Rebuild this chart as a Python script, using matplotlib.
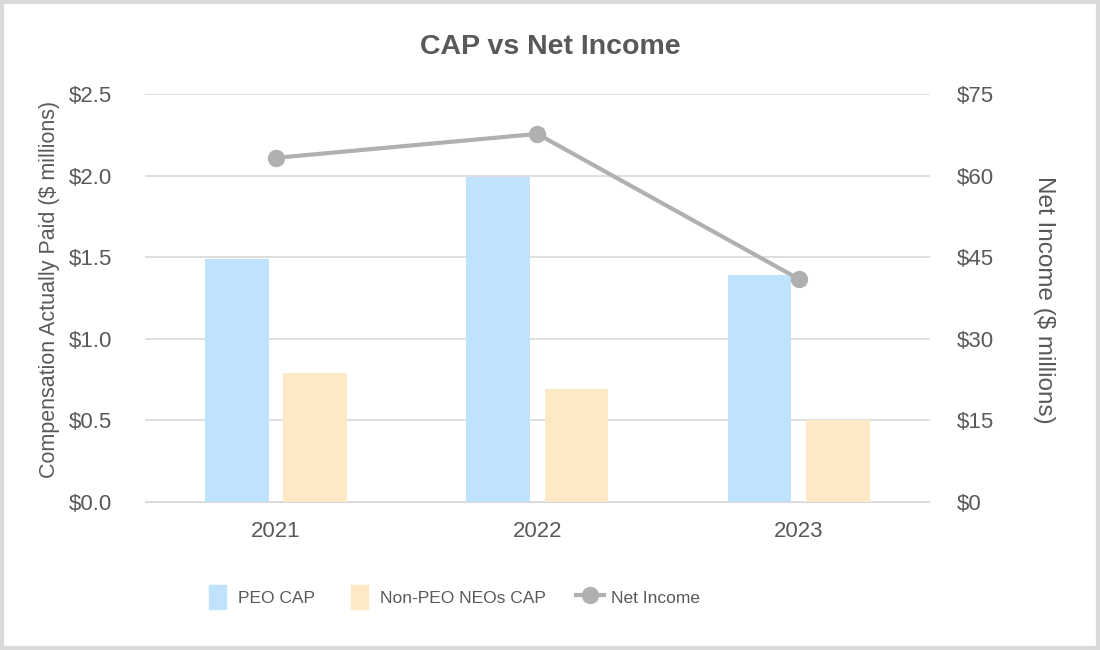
import matplotlib.pyplot as plt
import numpy as np
from matplotlib.lines import Line2D
from matplotlib.patches import Rectangle
from matplotlib.legend_handler import HandlerPatch
from matplotlib.ticker import FuncFormatter

plt.rcParams['font.family'] = ['Liberation Sans', 'DejaVu Sans']

years = ["2021", "2022", "2023"]
peo_cap = [1.49, 1.99, 1.39]
non_peo_cap = [0.79, 0.69, 0.50]
net_income = [63.3, 67.7, 41.0]

TEXT = "#595959"
GRID = "#d9d9d9"
PEO_COLOR = "#bfe3fd"
NON_PEO_COLOR = "#fde9c5"
LINE_COLOR = "#b0b0b0"


def narrow_box(legend, orig_handle, xdescent, ydescent, width, height, fontsize):
    # legend swatch is a narrow upright block, not the full handle length
    w = 12.2
    h = 17.3
    return Rectangle((-xdescent + (width - w) / 2, -ydescent + (height - h) / 2), w, h)


fig = plt.figure(figsize=(11, 6.5), dpi=100)
ax = fig.add_axes([0.132, 0.228, 0.713, 0.627])

x = np.arange(len(years))
w = 0.244
ax.bar(x - 0.15, peo_cap, w, color=PEO_COLOR, zorder=2)
ax.bar(x + 0.15, non_peo_cap, w, color=NON_PEO_COLOR, zorder=2)

ax.set_xlim(-0.5, 2.5)
ax.set_ylim(0, 2.5)
ax.set_yticks(np.arange(0, 2.51, 0.5))
ax.yaxis.set_major_formatter(FuncFormatter(lambda v, p: f"${v:.1f}"))
ax.set_xticks(x)
ax.set_xticklabels(years)
ax.grid(axis="y", color=GRID, linewidth=1.2, zorder=0)
for s in ["top", "right", "left"]:
    ax.spines[s].set_visible(False)
ax.spines["bottom"].set_color(GRID)
ax.tick_params(axis="both", length=0, labelsize=16, colors=TEXT)
ax.tick_params(axis="x", pad=14)
ax.tick_params(axis="y", pad=24)
ax.set_ylabel("Compensation Actually Paid ($ millions)", fontsize=15.5, color=TEXT)
ax.yaxis.set_label_coords(-0.108, 0.522)

ax2 = ax.twinx()
ax2.plot(x, net_income, color=LINE_COLOR, linewidth=3, marker="o", markersize=11.5, zorder=3)
ax2.set_ylim(0, 75)
ax2.set_yticks(np.arange(0, 76, 15))
ax2.yaxis.set_major_formatter(FuncFormatter(lambda v, p: f"${v:.0f}"))
for s in ax2.spines.values():
    s.set_visible(False)
ax2.tick_params(axis="y", length=0, labelsize=16, colors=TEXT, pad=20)
ax2.set_ylabel("Net Income ($ millions)", fontsize=17.5, color=TEXT, rotation=270, va="center")
ax2.yaxis.set_label_coords(1.146, 0.495)

fig.suptitle("CAP vs Net Income", fontsize=20.5, fontweight="bold", color=TEXT, y=0.948)

handles = [
    Rectangle((0, 0), 1, 1, color=PEO_COLOR),
    Rectangle((0, 0), 1, 1, color=NON_PEO_COLOR),
    Line2D([], [], color=LINE_COLOR, linewidth=3, marker="o", markersize=11.5),
]
labels = ["PEO CAP", "Non-PEO NEOs CAP", "Net Income"]
fig.legend(handles, labels, loc="center left", bbox_to_anchor=(203.5 / 1100, 0.0815), ncol=3,
           frameon=False, fontsize=12.5, labelcolor=TEXT, handlelength=1.61,
           handleheight=1.38, columnspacing=1.76, handletextpad=0.37,
           borderpad=0, borderaxespad=0,
           handler_map={Rectangle: HandlerPatch(patch_func=narrow_box)})

fig.patches.append(Rectangle((0.002, 0.003), 0.996, 0.994, transform=fig.transFigure,
                             fill=False, edgecolor=GRID, linewidth=3))

fig.savefig("out.png", dpi=100)
